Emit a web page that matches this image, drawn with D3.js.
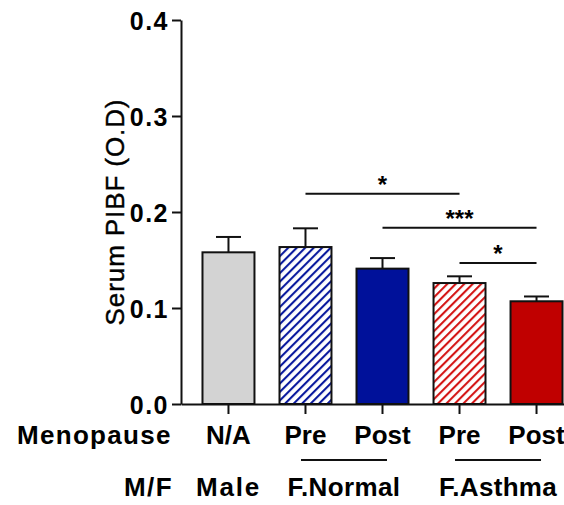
<!DOCTYPE html>
<html>
<head>
<meta charset="utf-8">
<script src="https://cdn.jsdelivr.net/npm/d3@7"></script>
<style>
  body { margin: 0; background: #fff; }
  svg text { font-family: Arial, "Liberation Sans", sans-serif; fill: #000; }
</style>
</head>
<body>
<div class="chart"></div>
<script>
// Data
var groups = ["Male", "F.Normal Pre", "F.Normal Post", "F.Asthma Pre", "F.Asthma Post"];
var means = [0.158, 0.1635, 0.141, 0.126, 0.107];
var sems = [0.016, 0.0195, 0.011, 0.007, 0.005];
var menopause = ["N/A", "Pre", "Post", "Pre", "Post"];
var sexLabels = ["Male", "F.Normal", "F.Asthma"];
var sexGroups = [[0], [1, 2], [3, 4]];
var yTicks = [0, 0.1, 0.2, 0.3, 0.4];
var sigFrom = [1, 2, 3];
var sigTo = [3, 4, 4];
var sigLevel = [0.219, 0.1835, 0.147];
var sigText = ["*", "***", "*"];

// Configuration
var width = 564;
var height = 505;
var axisX = 181;
var baseY = 404;

var fills = ["#d3d3d3", "url(#hatchBlue)", "#00119a", "url(#hatchRed)", "#c00000"];
var spacing = {"N/A": 0, "Pre": 0, "Post": 0, "Male": 1.8, "F.Normal": 0.4, "F.Asthma": 0.3};

var svg = d3.select(".chart").append("svg")
    .attr("width", width)
    .attr("height", height);

// hatch patterns
var defs = svg.append("defs");
[["hatchBlue", "#0a1a9e"], ["hatchRed", "#d41515"]].forEach(function(p) {
  var pat = defs.append("pattern")
      .attr("id", p[0])
      .attr("patternUnits", "userSpaceOnUse")
      .attr("width", 6)
      .attr("height", 6)
      .attr("patternTransform", "rotate(45)");
  pat.append("rect").attr("width", 6).attr("height", 6).attr("fill", "#fff");
  pat.append("line")
      .attr("x1", 1).attr("y1", 0).attr("x2", 1).attr("y2", 6)
      .attr("stroke", p[1])
      .attr("stroke-width", 2.2);
});

// scales
var x = d3.scaleBand()
    .domain(groups)
    .range([axisX, 584])
    .paddingInner(0.325)
    .paddingOuter(0.279);

var y = d3.scaleLinear()
    .domain([0, 0.4])
    .range([baseY, 20]);

// bars
svg.selectAll("rect.bar")
    .data(groups)
    .enter().append("rect")
    .attr("class", "bar")
    .attr("x", function(d) { return x(d); })
    .attr("y", function(d, i) { return y(means[i]); })
    .attr("width", x.bandwidth())
    .attr("height", function(d, i) { return baseY - y(means[i]); })
    .attr("fill", function(d, i) { return fills[i]; })
    .attr("stroke", "#111")
    .attr("stroke-width", 2);

// error bars (upper only)
var err = svg.selectAll("g.err")
    .data(groups)
    .enter().append("g")
    .attr("class", "err")
    .attr("stroke", "#111")
    .attr("stroke-width", 2);
err.append("line")
    .attr("x1", function(d) { return x(d) + x.bandwidth() / 2; })
    .attr("x2", function(d) { return x(d) + x.bandwidth() / 2; })
    .attr("y1", function(d, i) { return y(means[i]); })
    .attr("y2", function(d, i) { return y(means[i] + sems[i]); });
err.append("line")
    .attr("x1", function(d) { return x(d) + x.bandwidth() / 2 - 12.5; })
    .attr("x2", function(d) { return x(d) + x.bandwidth() / 2 + 12.5; })
    .attr("y1", function(d, i) { return y(means[i] + sems[i]); })
    .attr("y2", function(d, i) { return y(means[i] + sems[i]); });

// y axis
var yAxis = svg.append("g")
    .attr("transform", "translate(" + axisX + ",0)")
    .call(d3.axisLeft(y).tickValues(yTicks).tickFormat(d3.format(".1f"))
      .tickSize(9).tickSizeOuter(0).tickPadding(3));
yAxis.selectAll("path, line").attr("stroke", "#111").attr("stroke-width", 2);
yAxis.selectAll("text")
    .style("font-family", "Arial, 'Liberation Sans', sans-serif")
    .style("font-size", "25px")
    .style("font-weight", "bold")
    .style("letter-spacing", "1.5px")
    .attr("dy", "0.36em")
    .attr("fill", "#000");

// x axis
var xAxis = svg.append("g")
    .attr("transform", "translate(0," + baseY + ")")
    .call(d3.axisBottom(x).tickSize(10).tickSizeOuter(0).tickFormat(""));
xAxis.selectAll("path, line").attr("stroke", "#111").attr("stroke-width", 2);

// y title
svg.append("text")
    .attr("transform", "translate(124,212) rotate(-90)")
    .attr("text-anchor", "middle")
    .style("font-size", "26px")
    .style("letter-spacing", "0.9px")
    .style("stroke", "#000")
    .style("stroke-width", "0.4px")
    .text("Serum PIBF (O.D)");

// category labels row 1
svg.append("text")
    .attr("x", 17).attr("y", 444)
    .style("font-size", "26px").style("font-weight", "bold")
    .style("letter-spacing", "1.3px")
    .text("Menopause");
svg.selectAll("text.meno")
    .data(menopause)
    .enter().append("text")
    .attr("class", "meno")
    .attr("x", function(d, i) { return x(groups[i]) + x.bandwidth() / 2; })
    .attr("y", 444)
    .attr("text-anchor", "middle")
    .style("font-size", "26px").style("font-weight", "bold")
    .style("letter-spacing", function(d) { return spacing[d] + "px"; })
    .text(function(d) { return d; });

// category labels row 2
function groupCenter(idx) {
  return d3.mean(idx, function(i) { return x(groups[i]) + x.bandwidth() / 2; });
}
svg.append("text")
    .attr("x", 124).attr("y", 496)
    .style("font-size", "26px").style("font-weight", "bold")
    .style("letter-spacing", "1.4px")
    .text("M/F");
svg.selectAll("text.sex")
    .data(sexLabels)
    .enter().append("text")
    .attr("class", "sex")
    .attr("x", function(d, i) { return groupCenter(sexGroups[i]); })
    .attr("y", 496)
    .attr("text-anchor", "middle")
    .style("font-size", "26px").style("font-weight", "bold")
    .style("letter-spacing", function(d) { return spacing[d] + "px"; })
    .text(function(d) { return d; });

// underline for the two-bar groups
svg.selectAll("line.grp")
    .data(sexGroups.filter(function(g) { return g.length > 1; }))
    .enter().append("line")
    .attr("class", "grp")
    .attr("x1", function(g) { return groupCenter(g) - 43; })
    .attr("x2", function(g) { return groupCenter(g) + 43; })
    .attr("y1", 460).attr("y2", 460)
    .attr("stroke", "#111")
    .attr("stroke-width", 2);

// significance brackets
var sig = svg.selectAll("g.sig")
    .data(sigText)
    .enter().append("g")
    .attr("class", "sig");
sig.append("line")
    .attr("x1", function(d, i) { return x(groups[sigFrom[i]]) + x.bandwidth() / 2; })
    .attr("x2", function(d, i) { return x(groups[sigTo[i]]) + x.bandwidth() / 2; })
    .attr("y1", function(d, i) { return y(sigLevel[i]); })
    .attr("y2", function(d, i) { return y(sigLevel[i]); })
    .attr("stroke", "#111")
    .attr("stroke-width", 2);
sig.append("text")
    .attr("x", function(d, i) {
      return (x(groups[sigFrom[i]]) + x(groups[sigTo[i]])) / 2 + x.bandwidth() / 2;
    })
    .attr("y", function(d, i) { return y(sigLevel[i]) - 1; })
    .attr("text-anchor", "middle")
    .style("font-size", "24px")
    .style("font-weight", "bold")
    .text(function(d) { return d; });
</script>
</body>
</html>
